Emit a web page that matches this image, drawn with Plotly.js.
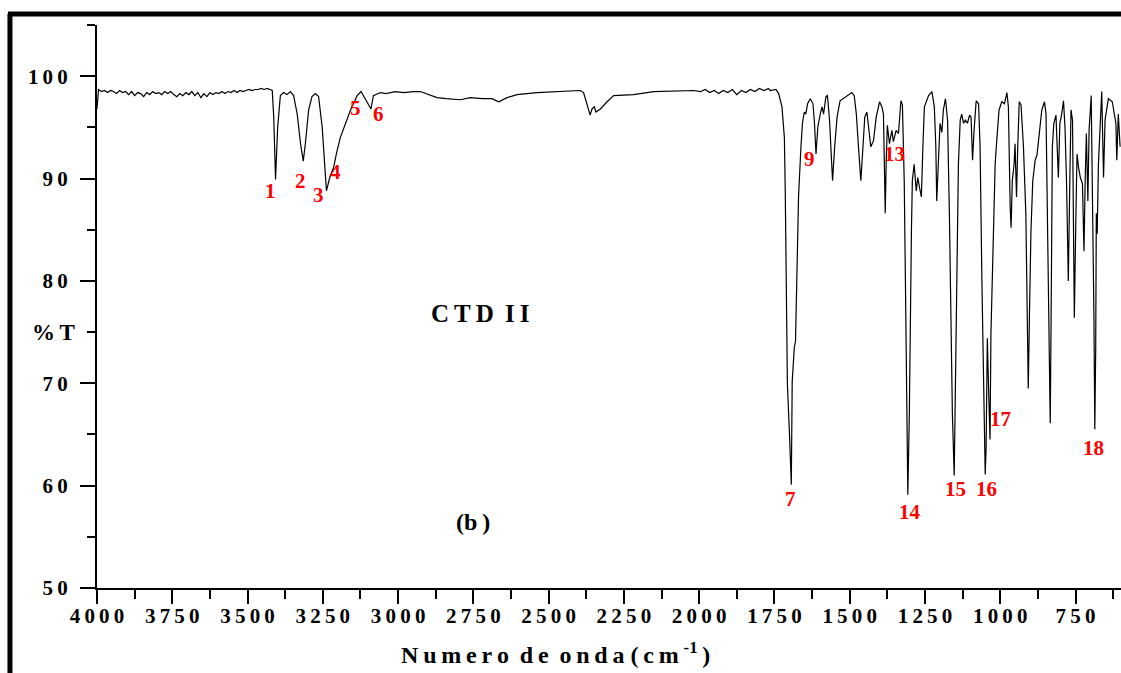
<!DOCTYPE html>
<html>
<head>
<meta charset="utf-8">
<script src="https://cdn.plot.ly/plotly-3.0.1.min.js"></script>
<style>html,body{margin:0;padding:0;background:#fff;}#chart{width:1121px;height:673px;}</style>
</head>
<body>
<div id="chart"></div>
<script>
// Wavenumber (cm-1) and transmittance (%T)
const wavenumber = [
4000,3995,3985,3975,3965,3955,3945,3935,3925,3915,3905,3895,3885,3875,3865,3855,3845,3835,3825,3815,3805,3795,3785,3775,3765,3755,3745,3735,3725,3715,3705,3695,3685,3675,3665,3655,3645,3635,3625,3615,3605,3595,3585,3575,3565,3555,3545,3535,3525,3515,3505,3495,3485,3475,3465,3455,3445,3435,3425,
3418,3413,3407,3400,3391,3380,3369,3358,3347,3335,3324,3315,3308,3297,3286,3275,3264,3252,3245,3238,3227,3214,3205,3192,3158,3136,3123,3103,3090,3082,3059,3040,3010,2980,2950,2926,2900,2871,2840,2793,2760,2720,2688,2666,2638,2605,2539,2472,2395,2384,2373,2362,2356,2348,2343,2328,2306,2284,2218,2151,2019,
1995,1980,1965,1950,1935,1920,1905,1890,1875,1860,1845,1830,1815,1800,1785,1770,1764,1745,1736,1725,1717,1714,1711,1707,1700,1694,1691,1684,1680,1675,1670,1662,1657,1651,1646,1640,1631,1622,1617,1612,1606,1598,1592,1587,1579,1574,1567,1561,1557,1550,1542,1532,1509,1493,1485,1478,1471,1463,1456,1450,1443,1436,1430,1421,1412,1401,1393,1388,1384,1382,1379,1375,1368,1360,1355,1346,1338,1330,1325,1319,1315,1310,1307,1302,1299,1295,1292,1286,1279,1274,1268,1262,1257,1252,1238,1227,1219,1214,1211,1205,1200,1194,1189,1182,1175,1169,1164,1159,1153,1149,1144,1139,1133,1128,1122,1116,1109,1102,1097,1092,1087,1080,1072,1067,1061,1056,1050,1047,1043,1038,1034,1031,1025,1017,1011,1004,995,986,978,973,967,964,960,954,951,946,942,937,931,923,915,911,907,903,898,892,884,878,871,862,853,848,842,837,834,831,827,822,815,811,807,802,796,790,785,780,776,774,769,765,760,756,754,749,745,740,734,727,722,718,714,709,705,698,694,689,686,683,681,678,674,668,663,657,652,641,628,616,613,608,602
];
const transmittance = [
96.8,98.7,98.5,98.6,98.4,98.6,98.5,98.3,98.6,98.4,98.5,98.2,98.5,98.1,98.4,98.3,98.0,98.4,98.2,98.5,98.3,98.4,98.2,98.5,98.3,98.5,98.2,98.0,98.3,98.1,98.4,98.2,98.5,98.1,98.4,97.9,98.3,98.0,98.4,98.2,98.4,98.3,98.5,98.3,98.5,98.4,98.6,98.4,98.6,98.5,98.6,98.7,98.6,98.7,98.7,98.8,98.7,98.8,98.7,
98.6,96.0,89.9,95.0,98.1,98.4,98.2,98.5,98.1,96.3,93.4,91.7,93.4,96.7,98.0,98.3,98.0,95.0,91.8,88.8,90.1,91.1,92.4,94.0,96.7,98.1,98.5,97.4,96.8,98.1,98.4,98.3,98.5,98.4,98.5,98.5,98.2,97.9,97.8,97.7,97.9,97.8,97.8,97.5,97.9,98.2,98.4,98.5,98.6,98.4,97.2,96.2,96.8,97.0,96.5,96.8,97.5,98.1,98.2,98.5,98.6,
98.5,98.7,98.4,98.6,98.3,98.6,98.4,98.7,98.2,98.6,98.4,98.7,98.5,98.8,98.6,98.8,98.6,98.7,98.3,97.0,94.0,88.5,82.0,69.9,65.0,60.1,70.2,73.5,74.1,80.0,88.2,93.1,95.4,96.5,96.3,97.3,97.8,97.3,95.4,92.4,95.0,96.3,97.0,96.3,98.0,98.1,95.7,92.1,89.8,93.1,96.0,97.6,98.1,98.4,98.1,96.3,93.1,89.8,93.1,96.0,96.5,94.7,93.1,93.7,96.0,97.5,97.0,96.3,91.1,86.6,91.5,95.2,93.4,94.7,93.6,94.7,94.4,97.6,97.2,89.8,80.0,67.0,59.1,67.0,76.8,84.9,89.8,91.4,88.8,90.1,89.1,88.2,93.1,97.0,98.1,98.5,97.0,93.1,87.8,93.1,95.4,94.5,96.7,97.8,95.7,86.6,76.8,67.0,61.0,70.2,83.3,91.4,95.7,96.3,95.4,95.7,95.4,96.2,96.0,91.8,94.7,97.6,97.3,93.1,80.0,70.2,61.1,63.7,74.4,68.6,64.5,74.8,83.3,91.4,94.0,96.7,97.5,97.3,98.4,97.0,87.2,85.2,89.8,91.4,93.4,88.2,93.1,97.5,97.2,93.1,86.5,80.0,69.5,76.8,84.9,89.8,91.8,92.3,94.0,96.7,97.5,96.3,83.3,73.5,66.1,76.8,93.1,95.4,96.2,93.1,90.1,95.4,96.3,97.6,95.0,89.8,82.6,80.0,89.8,96.7,95.7,78.4,76.4,86.0,92.4,91.1,90.1,89.5,82.9,89.8,94.4,87.8,94.7,98.1,89.8,76.8,65.5,73.5,86.6,84.6,91.4,96.3,98.5,90.1,95.7,97.8,97.5,95.4,91.8,96.3,93.1
];

// Peak labels (number, wavenumber, %T of the label)
const peakNumbers = ['1','2','3','4','5','6','9','13','7','14','15','16','17','18'];
const peakLabelX  = [3424,3324,3265,3208,3142,3066,1634,1352,1697,1299,1149,1047,1000,691];
const peakLabelY  = [88.8,89.8,88.4,90.6,96.9,96.3,91.9,92.4,58.7,57.4,59.7,59.7,66.5,63.7];

const xTickValues = [4000,3750,3500,3250,3000,2750,2500,2250,2000,1750,1500,1250,1000,750];
const yTickValues = [50,60,70,80,90,100];

const SERIF = 'Liberation Serif, Times New Roman, serif';
const spaced = s => s.split('').join('\u2009');

const annotations = peakNumbers.map((t, i) => ({
  x: peakLabelX[i], y: peakLabelY[i], xref: 'x', yref: 'y', text: t, showarrow: false,
  font: {family: SERIF, size: 21, color: '#ff0000', weight: 'bold'}
}));
annotations.push({x: 2726, y: 76.8, xref: 'x', yref: 'y', text: 'C\u2009T\u2009D\u2009 I\u2009I', showarrow: false,
  font: {family: SERIF, size: 25, color: '#000', weight: 'bold'}});
annotations.push({x: 2750, y: 56.4, xref: 'x', yref: 'y', text: '(b\u2009)', showarrow: false,
  font: {family: SERIF, size: 24, color: '#000', weight: 'bold'}});
annotations.push({x: -0.0195, y: 75, xref: 'paper', yref: 'y', xanchor: 'right', text: '%\u2009T', showarrow: false,
  font: {family: SERIF, size: 23, color: '#000', weight: 'bold'}});
annotations.push({x: 0.448, y: -0.115, xref: 'paper', yref: 'paper', yanchor: 'middle',
  text: spaced('Numero') + ' \u2009' + spaced('de') + ' \u2009' + spaced('onda') + ' (\u2009c\u2009m\u2009<sup>-1</sup>\u2009)',
  showarrow: false, font: {family: SERIF, size: 24, color: '#000', weight: 'bold'}});

const trace = {
  x: wavenumber, y: transmittance, type: 'scatter', mode: 'lines',
  line: {color: '#000', width: 1.2}, hoverinfo: 'x+y'
};

const layout = {
  width: 1121, height: 673,
  margin: {l: 97, r: 0, t: 25, b: 85},
  paper_bgcolor: '#fff', plot_bgcolor: '#fff',
  showlegend: false,
  xaxis: {
    range: [4000, 599], showgrid: false, zeroline: false,
    showline: true, linecolor: '#000', linewidth: 2,
    ticks: 'outside', ticklen: 14, tickwidth: 2, tickcolor: '#000',
    ticklabelstandoff: -6,
    tickmode: 'array', tickvals: xTickValues, ticktext: xTickValues.map(v => spaced(String(v))),
    tickfont: {family: SERIF, size: 21, color: '#000', weight: 'bold'},
    minor: {dtick: 125, tick0: 0, ticks: 'outside', ticklen: 9, tickwidth: 2, tickcolor: '#000'}
  },
  yaxis: {
    range: [50, 105], showgrid: false, zeroline: false,
    showline: true, linecolor: '#000', linewidth: 2,
    ticks: 'outside', ticklen: 15, tickwidth: 2, tickcolor: '#000',
    ticklabelstandoff: 8,
    tickmode: 'array', tickvals: yTickValues, ticktext: yTickValues.map(v => spaced(String(v))),
    tickfont: {family: SERIF, size: 21, color: '#000', weight: 'bold'},
    minor: {dtick: 5, tick0: 0, ticks: 'outside', ticklen: 8, tickwidth: 2, tickcolor: '#000'}
  },
  annotations: annotations,
  shapes: [
    {type: 'line', xref: 'paper', yref: 'paper', x0: -0.085, x1: -0.085, y0: -0.2, y1: 1.0195,
     line: {color: '#000', width: 5}},
    {type: 'line', xref: 'paper', yref: 'paper', x0: -0.087, x1: 1.05, y0: 1.0195, y1: 1.0195,
     line: {color: '#000', width: 5}}
  ]
};

Plotly.newPlot('chart', [trace], layout, {displayModeBar: false, staticPlot: true});
</script>
</body>
</html>
